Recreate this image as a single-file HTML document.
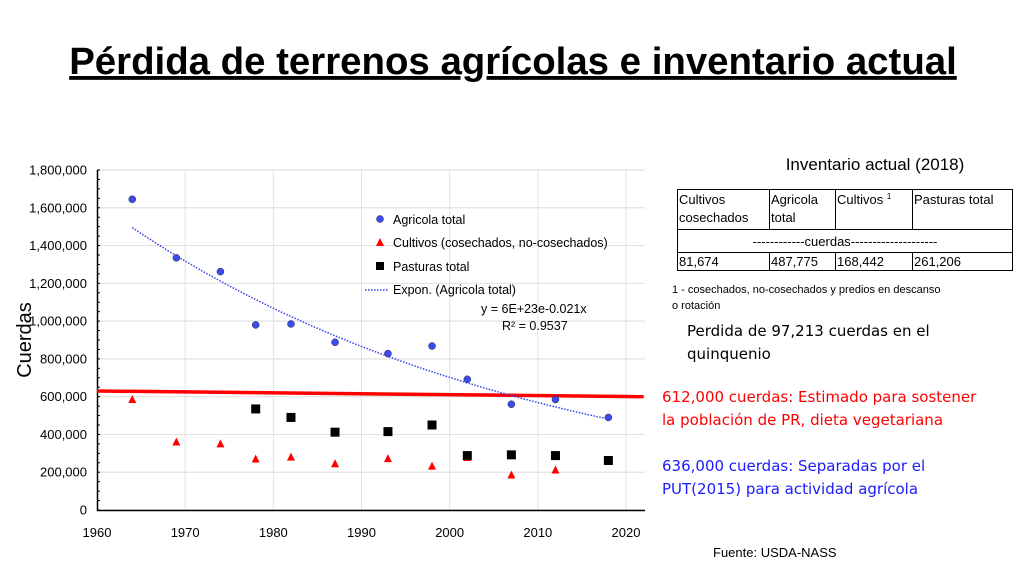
<!DOCTYPE html>
<html><head><meta charset="utf-8"><style>
body{margin:0;background:#fff;}
svg{display:block;font-family:"Liberation Sans",sans-serif;}
</style></head><body>
<svg id="s" width="1023" height="577" viewBox="0 0 1023 577" xmlns="http://www.w3.org/2000/svg">
<text x="513" y="74" text-anchor="middle" font-size="38.4" font-weight="bold" text-decoration="underline">Pérdida de terrenos agrícolas e inventario actual</text>
<g id="chart"></g>
<g id="legend">
<circle cx="380" cy="219" r="3.5" fill="#3b4cf0" stroke="#223" stroke-width="0.5"/>
<text x="393" y="224" font-size="12.5">Agricola total</text>
<polygon points="380,238 384,246 376,246" fill="#f00"/>
<text x="393" y="247" font-size="12.5">Cultivos (cosechados, no-cosechados)</text>
<rect x="376" y="262" width="8" height="8" fill="#000"/>
<text x="393" y="271" font-size="12.5">Pasturas total</text>
<line x1="365" y1="290" x2="389" y2="290" stroke="#3344ee" stroke-width="1.5" stroke-dasharray="1.5,1.5"/>
<text x="393" y="294" font-size="12.5">Expon. (Agricola total)</text>
<text x="481" y="313" font-size="12.5">y = 6E+23e-0.021x</text>
<text x="502" y="330" font-size="12.5">R² = 0.9537</text>
</g>
<text x="875" y="170" text-anchor="middle" font-size="17">Inventario actual (2018)</text>
<g stroke="#000" stroke-width="1" fill="none">
<rect x="677.5" y="189.5" width="335" height="81"/>
<line x1="677" y1="229.5" x2="1013" y2="229.5"/>
<line x1="677" y1="252.5" x2="1013" y2="252.5"/>
<line x1="769.5" y1="189" x2="769.5" y2="229"/><line x1="835.5" y1="189" x2="835.5" y2="229"/><line x1="912.5" y1="189" x2="912.5" y2="229"/>
<line x1="769.5" y1="252" x2="769.5" y2="271"/><line x1="835.5" y1="252" x2="835.5" y2="271"/><line x1="912.5" y1="252" x2="912.5" y2="271"/>
</g>
<g font-size="13">
<text x="679" y="204">Cultivos</text><text x="679" y="222">cosechados</text>
<text x="771" y="204">Agricola</text><text x="771" y="222">total</text>
<text x="837" y="204">Cultivos <tspan font-size="8" dy="-5">1</tspan></text>
<text x="914" y="204">Pasturas total</text>
<text x="845" y="246" text-anchor="middle">------------cuerdas--------------------</text>
<text x="679" y="266">81,674</text><text x="771" y="266">487,775</text><text x="837" y="266">168,442</text><text x="914" y="266">261,206</text>
</g>
<text x="672" y="293" font-size="11">1 - cosechados, no-cosechados y predios en descanso</text>
<text x="672" y="309" font-size="11">o rotación</text>
<g font-family="'DejaVu Sans','Liberation Sans',sans-serif" font-size="15">
<text x="687" y="336">Perdida de 97,213 cuerdas en el</text>
<text x="687" y="359">quinquenio</text>
<text x="662" y="402" fill="#f00">612,000 cuerdas: Estimado para sostener</text>
<text x="662" y="425" fill="#f00">la población de PR, dieta vegetariana</text>
<text x="662" y="471" fill="#1a1aff">636,000 cuerdas: Separadas por el</text>
<text x="662" y="494" fill="#1a1aff">PUT(2015) para actividad agrícola</text>
</g>
<text x="713" y="557" font-size="13">Fuente: USDA-NASS</text>
</svg>
<script>
const agrYears=[1964,1969,1974,1978,1982,1987,1993,1998,2002,2007,2012,2018];
const agrValues=[1645000,1335000,1262000,980000,985000,888000,828000,868000,692000,560000,585000,490000];
const culYears=[1964,1969,1974,1978,1982,1987,1993,1998,2002,2007,2012];
const culValues=[585000,360000,350000,270000,280000,245000,272000,232000,278000,185000,212000];
const pasYears=[1978,1982,1987,1993,1998,2002,2007,2012,2018];
const pasValues=[535000,490000,412000,415000,450000,288000,292000,288000,262000];
const trendStart=[1964,1495000];
const trendRate=[-0.021];
const trendEnd=[2018];
const redLineYears=[1960,2022];
const redLineValues=[630000,600000];
const xTicks=[1960,1970,1980,1990,2000,2010,2020];
const yTicks=[0,200000,400000,600000,800000,1000000,1200000,1400000,1600000,1800000];
const yTickLabels=["0","200,000","400,000","600,000","800,000","1,000,000","1,200,000","1,400,000","1,600,000","1,800,000"];

const NS="http://www.w3.org/2000/svg";
const g=document.getElementById('chart');
const X=v=>97+(v-1960)*(626-97)/60;
const Y=v=>510-v*(340/1800000);
function mk(t,a){const e=document.createElementNS(NS,t);for(const k in a)e.setAttribute(k,a[k]);g.appendChild(e);return e;}
yTicks.forEach((v,i)=>{
  const l=mk('line',{x1:97,x2:645,y1:Y(v),y2:Y(v),stroke:'#e2e2e2','stroke-width':1.2});
  
  
  const t=mk('text',{x:87,y:Y(v)+4.5,'text-anchor':'end','font-size':13});
  t.textContent=yTickLabels[i];
  
  
});
xTicks.forEach(v=>{
  if(v>1960){const l=mk('line',{x1:X(v),x2:X(v),y1:170,y2:510,stroke:'#e2e2e2','stroke-width':1});
  
  }
  const t=mk('text',{x:X(v),y:537,'text-anchor':'middle','font-size':13});
  t.textContent=v;
  
  
});
for(let v=0;v<=1800000;v+=50000){const l=mk('line',{x1:97,x2:100,y1:Y(v),y2:Y(v),stroke:'#000','stroke-width':1});

}
const ax=mk('path',{d:`M97.5 170 V510.5 H645`,stroke:'#000','stroke-width':1.5,fill:'none'});


const yt=mk('text',{x:0,y:0,'font-size':20,transform:'translate(31 340) rotate(-90)','text-anchor':'middle'});
yt.textContent='Cuerdas';


const rl=mk('line',{x1:X(redLineYears[0]),x2:X(redLineYears[1]),y1:Y(redLineValues[0]),y2:Y(redLineValues[1]),stroke:'#f00','stroke-width':3.5});


let d='';
for(let yr=trendStart[0];yr<=trendEnd[0];yr+=0.5){const v=trendStart[1]*Math.exp(trendRate[0]*(yr-trendStart[0]));d+=(d?'L':'M')+X(yr).toFixed(1)+' '+Y(v).toFixed(1);}
const tr=mk('path',{d:d,stroke:'#3344ee','stroke-width':1.5,'stroke-dasharray':'1.5,1.5',fill:'none'});


agrYears.forEach((yr,i)=>{const c=mk('circle',{cx:X(yr),cy:Y(agrValues[i]),r:3.5,fill:'#3b4cf0',stroke:'#223','stroke-width':0.5});

});
culYears.forEach((yr,i)=>{const x=X(yr),y=Y(culValues[i]);const p=mk('polygon',{points:`${x},${y-4.5} ${x+4},${y+3.5} ${x-4},${y+3.5}`,fill:'#f00'});

});
pasYears.forEach((yr,i)=>{const r=mk('rect',{x:X(yr)-4.5,y:Y(pasValues[i])-4.5,width:9,height:9,fill:'#000'});

});
</script>
</body></html>
